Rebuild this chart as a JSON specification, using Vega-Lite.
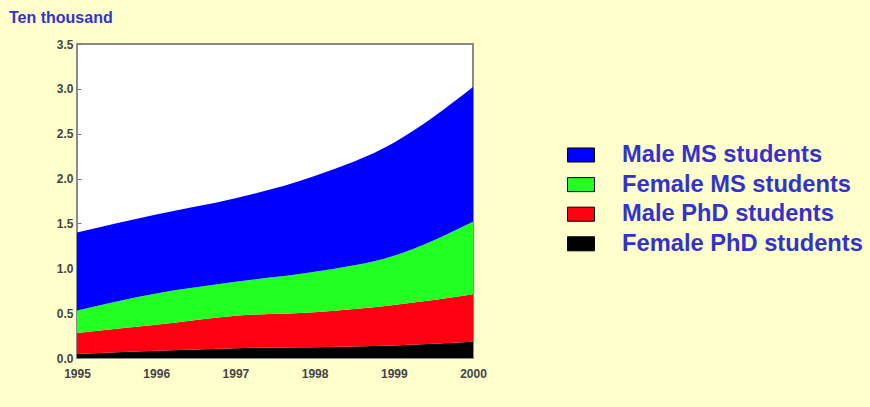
{
  "$schema": "https://vega.github.io/schema/vega-lite/v6.json",
  "width": 396,
  "height": 314,
  "autosize": {"type": "none"},
  "padding": {"left": 77, "top": 44, "right": 397, "bottom": 49},
  "background": "#FFFFCC",
  "title": {"text": "Ten thousand", "anchor": "start", "frame": "group", "dx": -68, "offset": 12, "font": "Liberation Sans", "fontSize": 16, "fontWeight": "bold", "color": "#3333CC"},
  "config": {"view": {"fill": "white", "stroke": "#8a8a8a", "strokeWidth": 2}},
  "data": {"values": [
    {"year": 1995, "group": "Female PhD students", "ord": 1, "value": 0.045},
    {"year": 1996, "group": "Female PhD students", "ord": 1, "value": 0.08},
    {"year": 1997, "group": "Female PhD students", "ord": 1, "value": 0.11},
    {"year": 1998, "group": "Female PhD students", "ord": 1, "value": 0.12},
    {"year": 1999, "group": "Female PhD students", "ord": 1, "value": 0.14},
    {"year": 2000, "group": "Female PhD students", "ord": 1, "value": 0.18},
    {"year": 1995, "group": "Male PhD students", "ord": 2, "value": 0.235},
    {"year": 1996, "group": "Male PhD students", "ord": 2, "value": 0.29},
    {"year": 1997, "group": "Male PhD students", "ord": 2, "value": 0.36},
    {"year": 1998, "group": "Male PhD students", "ord": 2, "value": 0.39},
    {"year": 1999, "group": "Male PhD students", "ord": 2, "value": 0.45},
    {"year": 2000, "group": "Male PhD students", "ord": 2, "value": 0.53},
    {"year": 1995, "group": "Female MS students", "ord": 3, "value": 0.25},
    {"year": 1996, "group": "Female MS students", "ord": 3, "value": 0.35},
    {"year": 1997, "group": "Female MS students", "ord": 3, "value": 0.38},
    {"year": 1998, "group": "Female MS students", "ord": 3, "value": 0.45},
    {"year": 1999, "group": "Female MS students", "ord": 3, "value": 0.55},
    {"year": 2000, "group": "Female MS students", "ord": 3, "value": 0.81},
    {"year": 1995, "group": "Male MS students", "ord": 4, "value": 0.87},
    {"year": 1996, "group": "Male MS students", "ord": 4, "value": 0.88},
    {"year": 1997, "group": "Male MS students", "ord": 4, "value": 0.93},
    {"year": 1998, "group": "Male MS students", "ord": 4, "value": 1.07},
    {"year": 1999, "group": "Male MS students", "ord": 4, "value": 1.26},
    {"year": 2000, "group": "Male MS students", "ord": 4, "value": 1.5}
  ]},
  "mark": {"type": "area", "interpolate": "monotone"},
  "encoding": {
    "x": {"field": "year", "type": "quantitative", "scale": {"domain": [1995, 2000], "nice": false},
      "axis": {"values": [1995, 1996, 1997, 1998, 1999, 2000], "format": "d", "title": null, "grid": false, "domain": false, "ticks": false, "labelPadding": 10, "labelFont": "Liberation Sans", "labelFontWeight": "bold", "labelFontSize": 12, "labelColor": "#444444", "labelFlush": false}},
    "y": {"field": "value", "type": "quantitative", "stack": "zero", "scale": {"domain": [0, 3.5], "nice": false},
      "axis": {"values": [0, 0.5, 1, 1.5, 2, 2.5, 3, 3.5], "format": ".1f", "title": null, "grid": false, "domain": false, "ticks": true, "tickSize": -4, "tickColor": "#777777", "labelPadding": 8, "labelFont": "Liberation Sans", "labelFontWeight": "bold", "labelFontSize": 12, "labelColor": "#444444"}},
    "color": {"field": "group", "type": "nominal",
      "scale": {"domain": ["Male MS students", "Female MS students", "Male PhD students", "Female PhD students"], "range": ["#0000FF", "#22FF22", "#FF0011", "#000000"]},
      "legend": {"title": null, "orient": "none", "legendX": 490, "legendY": 97, "padding": 0, "symbolType": "M-1,-0.52H1V0.52H-1Z", "symbolSize": 729, "symbolStrokeColor": "#000000", "symbolStrokeWidth": 1, "symbolOpacity": 1, "labelFont": "Liberation Sans", "labelFontSize": 23.7, "labelFontWeight": "bold", "labelColor": "#3333CC", "labelOffset": 27, "labelLimit": 400, "rowPadding": 3.6}},
    "order": {"field": "ord", "type": "quantitative"}
  }
}
